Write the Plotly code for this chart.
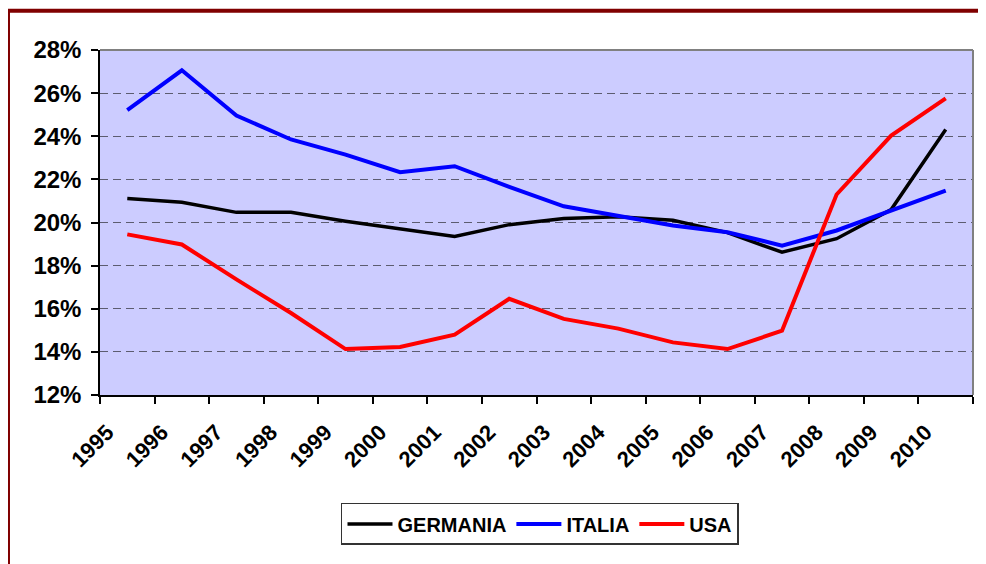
import plotly.graph_objects as go

years = [str(y) for y in range(1995, 2011)]
germania = [21.11, 20.94, 20.47, 20.47, 20.06, 19.72, 19.35, 19.90, 20.18, 20.27, 20.10, 19.53, 18.62, 19.25, 20.60, 24.31]
italia = [25.21, 27.06, 24.96, 23.85, 23.15, 22.33, 22.61, 21.65, 20.75, 20.30, 19.86, 19.55, 18.93, 19.63, 20.57, 21.48]
usa = [19.45, 18.98, 17.36, 15.80, 14.13, 14.23, 14.80, 16.46, 15.53, 15.08, 14.44, 14.13, 14.98, 21.30, 24.03, 25.76]
y_ticks = [12, 14, 16, 18, 20, 22, 24, 26, 28]
y_tick_labels = [f"{v}%" for v in y_ticks]

series = [("GERMANIA", germania, "#000000", 3.5),
          ("ITALIA", italia, "#0000FF", 4),
          ("USA", usa, "#FF0000", 4)]

fig = go.Figure()
for name, vals, color, w in series:
    fig.add_trace(go.Scatter(x=years, y=vals, name=name, mode="lines",
                             line=dict(color=color, width=w)))

font_family = "Liberation Sans, Arial, sans-serif"

# page body has an 8px margin: figure is placed at (8, 8)
fig.update_layout(
    width=978, height=556,
    margin=dict(l=92, r=13, t=42, b=169),
    paper_bgcolor="white",
    plot_bgcolor="#CCCCFF",
    font=dict(family=font_family, color="black"),
    showlegend=True,
    legend=dict(orientation="h", x=0.504, xanchor="center", y=-0.313, yanchor="top",
                bordercolor="#333333", borderwidth=1.5, bgcolor="white",
                font=dict(size=20, family=font_family, weight="bold"),
                itemwidth=45, tracegroupgap=0),
    xaxis=dict(type="category", range=[-0.5, 15.5], tickson="boundaries",
               ticks="outside", ticklen=7, tickcolor="black", tickwidth=1.5,
               showline=True, linecolor="black", linewidth=1.5,
               showgrid=False, tickangle=-45, automargin=False,
               tickfont=dict(size=22, family=font_family, weight="bold"),
               ticklabelstandoff=14, ticklabelshift=-20),
    yaxis=dict(range=[12, 28], tickvals=y_ticks, ticktext=y_tick_labels,
               ticks="outside", ticklen=7, tickcolor="black", tickwidth=1.5,
               showline=True, linecolor="black", linewidth=1.5,
               showgrid=True, gridcolor="#5c5c70", gridwidth=1.2, griddash="8px,5px",
               zeroline=False, automargin=False, ticklabelstandoff=5,
               tickfont=dict(size=24, family=font_family, weight="bold")),
    shapes=[
        dict(type="line", xref="paper", yref="paper", x0=0, x1=1, y0=1, y1=1,
             line=dict(color="#808080", width=2), layer="above"),
        dict(type="line", xref="paper", yref="paper", x0=1, x1=1, y0=0, y1=1,
             line=dict(color="#808080", width=2), layer="above"),
        dict(type="rect", xref="paper", yref="paper", x0=-0.1054, x1=1.06,
             y0=-0.55, y1=1.114, line=dict(color="#800000", width=4),
             fillcolor="rgba(0,0,0,0)", layer="above"),
    ],
)

fig.write_html("out.html")
